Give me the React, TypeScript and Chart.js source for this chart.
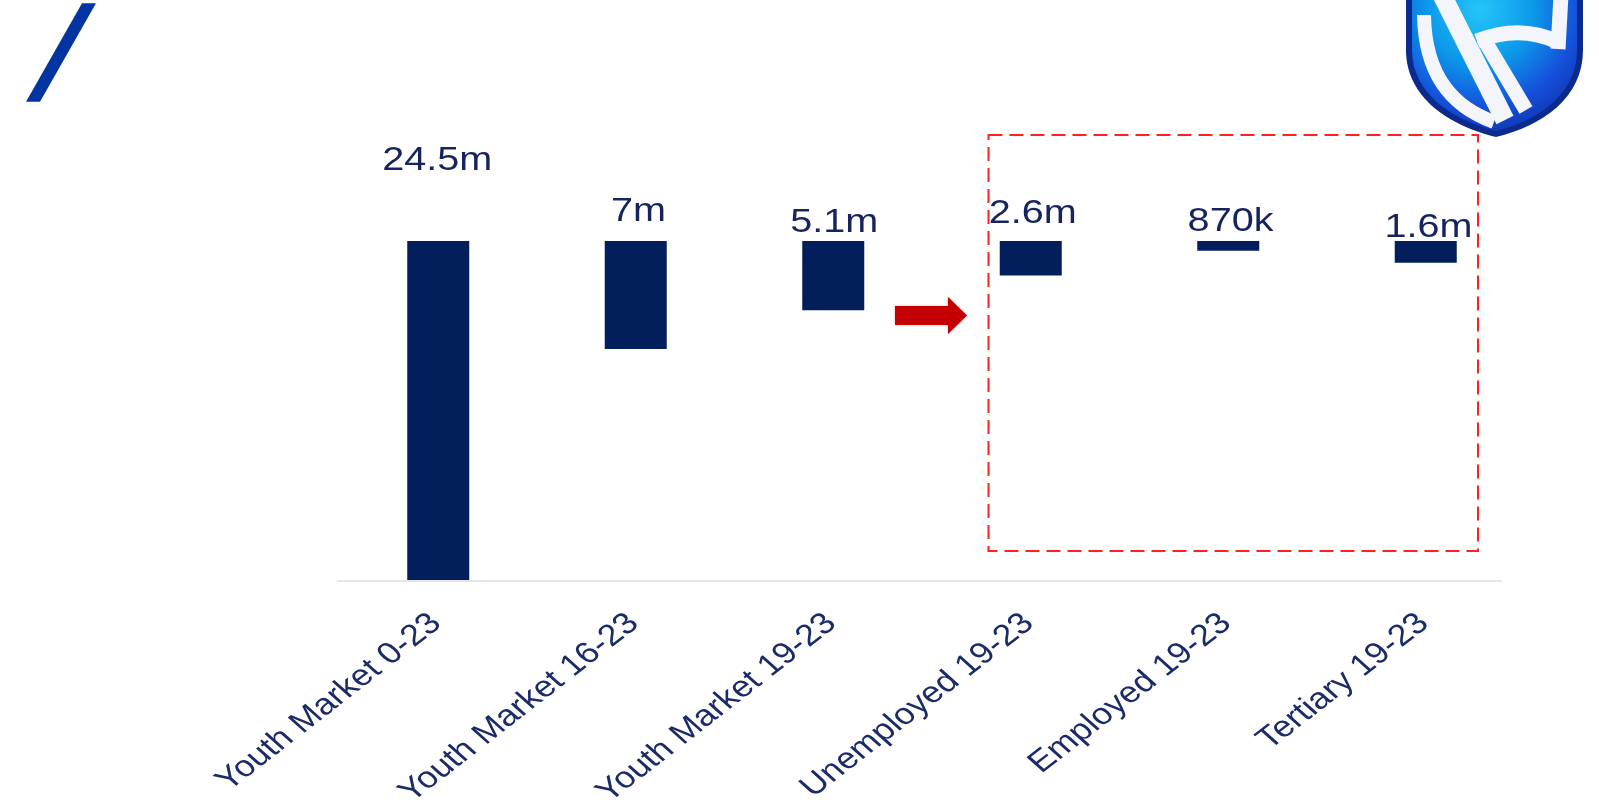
import React, { useEffect, useRef } from "react";
import { Chart, registerables } from "chart.js";

Chart.register(...registerables);

// ---- data ----
const categories = [
  "Youth Market 0-23",
  "Youth Market 16-23",
  "Youth Market 19-23",
  "Unemployed 19-23",
  "Employed 19-23",
  "Tertiary 19-23",
];
// bar lengths (millions) as drawn, hanging from the common top
const barValues = [24.5, 7.8, 5.0, 2.5, 0.7, 1.57];
const valueLabels = ["24.5m", "7m", "5.1m", "2.6m", "870k", "1.6m"];
const topValue = 24.5;

// ---- style ----
const BAR_COLOR = "#021F5C";
const TEXT_COLOR = "#15245E";
const TICK_COLOR = "#1B2B68";
const STRETCH = 1.2;
const labelLift = [83, 31.5, 21, 29.5, 22, 16];
const labelShift = [-1, 2.7, 1, 2, 2.3, 2.7];

const decorPlugin = {
  id: "decor",
  afterDraw(chart: any) {
    const ctx: CanvasRenderingContext2D = chart.ctx;
    const xs = chart.scales.x;
    const ys = chart.scales.y;
    const area = chart.chartArea;

    // blue slash top-left
    ctx.save();
    ctx.fillStyle = "#0335A2";
    ctx.beginPath();
    ctx.moveTo(82, 3.3);
    ctx.lineTo(96, 3.3);
    ctx.lineTo(40, 101.7);
    ctx.lineTo(26, 101.7);
    ctx.closePath();
    ctx.fill();
    ctx.restore();

    // logo (shield)
    ctx.save();
    const outer = new Path2D();
    outer.moveTo(1406, -5);
    outer.lineTo(1406, 50);
    outer.bezierCurveTo(1406, 98, 1450, 126, 1496, 137);
    outer.bezierCurveTo(1542, 126, 1583, 98, 1583, 50);
    outer.lineTo(1583, -5);
    outer.closePath();
    ctx.fillStyle = "#0B2A8E";
    ctx.fill(outer);
    const inner = new Path2D();
    inner.moveTo(1412, -5);
    inner.lineTo(1412, 50);
    inner.bezierCurveTo(1412, 94, 1453, 120, 1496, 131);
    inner.bezierCurveTo(1539, 120, 1577, 94, 1577, 50);
    inner.lineTo(1577, -5);
    inner.closePath();
    const g = ctx.createRadialGradient(1480, 10, 0, 1480, 10, 135);
    g.addColorStop(0, "#25C6F8");
    g.addColorStop(0.4, "#0C98EA");
    g.addColorStop(0.72, "#1550DA");
    g.addColorStop(1, "#0E2FA8");
    ctx.fillStyle = g;
    ctx.fill(inner);
    ctx.clip(inner);
    ctx.strokeStyle = "#F3F5FA";
    ctx.lineCap = "butt";
    ctx.lineWidth = 14;
    ctx.beginPath();
    ctx.moveTo(1424, 15);
    ctx.bezierCurveTo(1425, 78, 1455, 108, 1494, 122);
    ctx.stroke();
    ctx.lineWidth = 19;
    ctx.beginPath();
    ctx.moveTo(1442, -5);
    ctx.lineTo(1505, 120);
    ctx.stroke();
    ctx.lineWidth = 15;
    ctx.beginPath();
    ctx.moveTo(1483, 38);
    ctx.lineTo(1526, 110);
    ctx.stroke();
    ctx.beginPath();
    ctx.moveTo(1477, 41);
    ctx.quadraticCurveTo(1520, 24, 1558, 42);
    ctx.stroke();
    ctx.beginPath();
    ctx.moveTo(1558, 49);
    ctx.lineTo(1561, -5);
    ctx.stroke();
    ctx.restore();

    // axis line
    ctx.save();
    ctx.strokeStyle = "#E6E6E6";
    ctx.lineWidth = 2;
    ctx.beginPath();
    ctx.moveTo(337, area.bottom + 1);
    ctx.lineTo(1502, area.bottom + 1);
    ctx.stroke();
    ctx.restore();

    // red dashed box
    ctx.save();
    ctx.strokeStyle = "#FF2020";
    ctx.lineWidth = 2;
    ctx.setLineDash([14, 7]);
    ctx.strokeRect(988.5, 135, 489.5, 416);
    ctx.restore();

    // red arrow
    ctx.save();
    ctx.fillStyle = "#C40000";
    ctx.shadowColor = "rgba(255,60,60,0.6)";
    ctx.shadowBlur = 2;
    ctx.beginPath();
    ctx.moveTo(895, 306);
    ctx.lineTo(948, 306);
    ctx.lineTo(948, 297);
    ctx.lineTo(967, 315.5);
    ctx.lineTo(948, 334);
    ctx.lineTo(948, 325);
    ctx.lineTo(895, 325);
    ctx.closePath();
    ctx.fill();
    ctx.restore();

    // value labels
    const fs = 33;
    ctx.save();
    ctx.fillStyle = TEXT_COLOR;
    ctx.font = `${fs}px "Liberation Sans", Arial, sans-serif`;
    ctx.textAlign = "center";
    ctx.textBaseline = "alphabetic";
    const topPx = ys.getPixelForValue(topValue);
    valueLabels.forEach((lab, i) => {
      const cx = xs.getPixelForValue(i) + labelShift[i];
      const cy = topPx - labelLift[i];
      ctx.save();
      ctx.translate(cx, cy + 0.358 * fs);
      ctx.scale(STRETCH, 1);
      ctx.fillText(lab, 0, 0);
      ctx.restore();
    });
    ctx.restore();

    // category labels (rotated)
    const tfs = 30;
    const ang = (43 * Math.PI) / 180;
    ctx.save();
    ctx.fillStyle = TICK_COLOR;
    ctx.font = `${tfs}px "Liberation Sans", Arial, sans-serif`;
    ctx.textAlign = "right";
    ctx.textBaseline = "middle";
    categories.forEach((c, i) => {
      const ax = xs.getPixelForValue(i) - 2;
      const ay = area.bottom + 39;
      ctx.save();
      ctx.translate(ax, ay);
      ctx.scale(STRETCH, 1);
      ctx.rotate(-ang);
      ctx.fillText(c, 0, 0);
      ctx.restore();
    });
    ctx.restore();
  },
};

export default function App() {
  const ref = useRef<HTMLCanvasElement>(null);
  useEffect(() => {
    document.body.style.margin = "0";
    if (!ref.current) return;
    const chart = new Chart(ref.current, {
      type: "bar",
      data: {
        labels: categories,
        datasets: [
          {
            data: barValues.map((v) => [topValue - v, topValue]) as any,
            backgroundColor: BAR_COLOR,
            borderWidth: 0,
            categoryPercentage: 1,
            barPercentage: 0.314,
          },
        ],
      },
      options: {
        animation: false,
        responsive: false,
        maintainAspectRatio: false,
        layout: { padding: { left: 339.5, right: 74.5, top: 241, bottom: 229 } },
        plugins: { legend: { display: false }, tooltip: { enabled: false } },
        scales: {
          x: { display: false },
          y: { display: false, min: 0, max: topValue },
        },
      },
      plugins: [decorPlugin],
    });
    return () => chart.destroy();
  }, []);
  return (
    <div style={{ position: "fixed", left: 0, top: 0, width: 1599, height: 809, background: "#fff" }}>
      <canvas ref={ref} width={1599} height={809} style={{ display: "block" }} />
    </div>
  );
}
